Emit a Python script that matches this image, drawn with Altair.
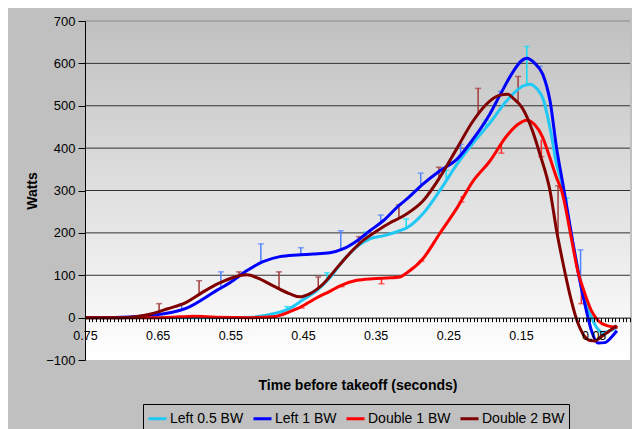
import altair as alt
import pandas as pd

# ---------------- data ----------------
series_names = ["Left 0.5 BW", "Left 1 BW", "Double 1 BW", "Double 2 BW"]
series_colors = ["#22C8F5", "#0000FF", "#FF0000", "#800000"]
errbar_colors = ["#10DDF5", "#4F80FF", "#FF2A2A", "#A03A3A"]

left05_t = [0.75, 0.70, 0.65, 0.60, 0.55, 0.52, 0.491, 0.468, 0.450, 0.431, 0.413, 0.395, 0.376, 0.358,
            0.340, 0.317, 0.307, 0.285, 0.262, 0.238, 0.216, 0.193, 0.170, 0.148, 0.138, 0.128, 0.120,
            0.110, 0.101, 0.093, 0.083, 0.073, 0.065, 0.055, 0.046, 0.037, 0.028, 0.018]
left05_w = [0, 0, 0, 0, 0, 1, 9, 22, 42, 64, 94, 134, 167, 186,
            193, 205, 212, 245, 299, 362, 412, 459, 511, 546, 551, 540, 518,
            447, 362, 312, 215, 127, 56, 9, -23, -35, -31, -23]

left1_t = [0.75, 0.70, 0.66, 0.612, 0.567, 0.551, 0.527, 0.505, 0.482, 0.458, 0.436, 0.413, 0.395,
           0.376, 0.358, 0.340, 0.317, 0.307, 0.285, 0.262, 0.238, 0.216, 0.193, 0.179, 0.161, 0.150,
           0.142, 0.131, 0.120, 0.110, 0.101, 0.092, 0.079, 0.069, 0.060, 0.053, 0.044, 0.035, 0.025, 0.018]
left1_w = [0, 1, 5, 21, 66, 82, 111, 132, 144, 148, 150, 153, 162,
           181, 205, 228, 266, 280, 315, 346, 374, 421, 480, 525, 580, 605,
           612, 600, 574, 511, 400, 312, 181, 87, 16, -31, -60, -59, -45, -31]

double1_t = [0.75, 0.65, 0.62, 0.60, 0.57, 0.52, 0.491, 0.468, 0.458, 0.445, 0.431, 0.413, 0.399, 0.376,
             0.354, 0.330, 0.317, 0.307, 0.285, 0.262, 0.238, 0.216, 0.193, 0.170, 0.155, 0.142, 0.131,
             0.120, 0.110, 0.101, 0.094, 0.080, 0.072, 0.062, 0.053, 0.044, 0.032, 0.017]
double1_w = [0, 0, 2, 3, 1, 0, 2, 14, 21, 33, 47, 62, 75, 88,
             92, 94, 96, 106, 139, 198, 259, 322, 369, 428, 455, 466, 455,
             425, 376, 330, 299, 181, 111, 56, 16, -7, -19, -23]

double2_t = [0.75, 0.70, 0.681, 0.658, 0.636, 0.612, 0.589, 0.567, 0.544, 0.535, 0.527, 0.513, 0.491,
             0.468, 0.454, 0.441, 0.422, 0.403, 0.385, 0.368, 0.348, 0.330, 0.317, 0.307, 0.285, 0.262,
             0.238, 0.216, 0.193, 0.179, 0.168, 0.161, 0.148, 0.134, 0.124, 0.110, 0.101, 0.092, 0.083,
             0.073, 0.065, 0.055, 0.048, 0.041, 0.028, 0.018]
double2_w = [0, 0, 2, 9, 21, 35, 59, 80, 96, 100, 101, 94, 75,
             56, 49, 56, 80, 118, 153, 181, 205, 224, 235, 245, 275, 330,
             400, 464, 511, 525, 527, 518, 494, 440, 386, 299, 205, 127, 56,
             -7, -38, -54, -55, -47, -31, -19]

# error bars: time, start (on the curve), end (cap)
left05_err_t = [0.472, 0.417, 0.363, 0.308, 0.253, 0.198, 0.142, 0.087]
left05_err_a = [20, 87, 180, 211, 322, 449, 549, 265]
left05_err_b = [26, 106, 202, 233, 348, 466, 640, 282]

left1_err_t = [0.617, 0.563, 0.508, 0.453, 0.398, 0.343, 0.288, 0.233, 0.178, 0.124, 0.068]
left1_err_a = [21, 71, 129, 150, 158, 224, 311, 386, 522, 585, 80]
left1_err_b = [33, 108, 174, 165, 205, 242, 341, 409, 534, 593, 160]

double1_err_t = [0.452, 0.397, 0.342, 0.287, 0.232, 0.177, 0.122, 0.067]
double1_err_a = [26, 76, 92, 136, 287, 412, 420, 83]
double1_err_b = [23, 73, 80, 133, 273, 388, 380, 33]

double2_err_t = [0.648, 0.593, 0.538, 0.483, 0.429, 0.373, 0.318, 0.263, 0.209, 0.154, 0.099]
double2_err_a = [12, 55, 99, 69, 68, 172, 235, 329, 482, 508, 190]
double2_err_b = [33, 87, 108, 108, 96, 191, 266, 355, 541, 569, 311]

grid_values = [100, 200, 300, 400, 500, 600]
top_value = [700]
y_ticks = [-100, 0, 100, 200, 300, 400, 500, 600, 700]
x_tick_step = 0.005
x_label_values = [0.75, 0.65, 0.55, 0.45, 0.35, 0.25, 0.15, 0.05]

# ---------------- tables ----------------
curves = [(left05_t, left05_w), (left1_t, left1_w), (double1_t, double1_w), (double2_t, double2_w)]
rows = []
for name, (ts, ws) in zip(series_names, curves):
    for i, (t, w) in enumerate(zip(ts, ws)):
        rows.append({"series": name, "t": t, "w": w, "i": i})
lines_df = pd.DataFrame(rows)

errs = [(left05_err_t, left05_err_a, left05_err_b), (left1_err_t, left1_err_a, left1_err_b),
        (double1_err_t, double1_err_a, double1_err_b), (double2_err_t, double2_err_a, double2_err_b)]

x_ticks = [round(0.75 - k * x_tick_step, 3) for k in range(int(round(0.75 / x_tick_step)) + 1)]

# ---------------- layout ----------------
W, H = 545, 339
ymin, ymax = -100, 700
zero_offset = -H * (0 - ymin) / (ymax - ymin)

xscale = alt.Scale(domain=[0, 0.75], reverse=True, nice=False, zero=False)
yscale = alt.Scale(domain=[ymin, ymax], nice=False, zero=False)

x_axis = alt.Axis(values=x_ticks, labelExpr="abs(round(datum.value*1000) % 100 - 50) < 1 ? format(datum.value, '.2f') : ''",
                  labelOverlap=False, labelFlush=False, tickSize=4, tickColor="black", domainColor="black",
                  labelPadding=8, labelFontSize=12.5, labelColor="black", grid=False, offset=zero_offset,
                  zindex=1, title="Time before takeoff (seconds)", titleFontSize=14, titleFontWeight="bold",
                  titleColor="black", titleY=68, titleBaseline="middle")
y_axis = alt.Axis(values=y_ticks, tickSize=7, tickColor="black", domainColor="black", labelPadding=3,
                  labelFontSize=13, labelColor="black", grid=False, zindex=1, title="Watts",
                  titleFontSize=14, titleFontWeight="bold", titleColor="black", titleX=-53,
                  titleY=H / 2, titleBaseline="middle", titleAngle=270)

gradient = alt.Gradient(gradient="linear",
                        stops=[alt.GradientStop(color="#C0C0C0", offset=0),
                               alt.GradientStop(color="#FFFFFF", offset=1)],
                        x1=0, x2=0, y1=0, y2=1)

bg = alt.Chart(pd.DataFrame({"a": [0]})).mark_rect(color=gradient).encode(
    x=alt.value(0), x2=alt.value(W), y=alt.value(0), y2=alt.value(H))

grid = alt.Chart(pd.DataFrame({"w": grid_values})).mark_rule(color="#303030", strokeWidth=1).encode(
    y=alt.Y("w:Q", scale=yscale, axis=y_axis))
top = alt.Chart(pd.DataFrame({"w": top_value})).mark_rule(color="#8A8A8A", strokeWidth=1).encode(
    y=alt.Y("w:Q", scale=yscale, axis=y_axis))

layers = [bg, grid, top]
for name, (et, ea, eb), col in zip(series_names, errs, errbar_colors):
    edf = pd.DataFrame({"t": et, "a": ea, "b": eb})
    layers.append(alt.Chart(edf).mark_rule(color=col, strokeWidth=1.5).encode(
        x=alt.X("t:Q", scale=xscale, axis=x_axis),
        y=alt.Y("a:Q", scale=yscale, axis=y_axis), y2="b:Q"))
    layers.append(alt.Chart(edf).mark_tick(color=col, orient="horizontal", size=6, thickness=1.5).encode(
        x=alt.X("t:Q", scale=xscale, axis=x_axis),
        y=alt.Y("b:Q", scale=yscale, axis=y_axis)))

lines = alt.Chart(lines_df).mark_line(strokeWidth=3, interpolate="monotone").encode(
    x=alt.X("t:Q", scale=xscale, axis=x_axis),
    y=alt.Y("w:Q", scale=yscale, axis=y_axis),
    color=alt.Color("series:N", title=None,
                    scale=alt.Scale(domain=series_names, range=series_colors),
                    legend=alt.Legend(orient="none", legendX=58, legendY=383, direction="horizontal",
                                      columns=4, symbolType="stroke", symbolStrokeWidth=3,
                                      symbolSize=324, labelFontSize=14, labelColor="black",
                                      labelOffset=2, columnPadding=3, padding=4,
                                      strokeColor="black", labelLimit=200)),
    detail="series:N",
    order="i:Q",
)
layers.append(lines)

chart = alt.layer(*layers).properties(
    width=W, height=H,
    autosize=alt.AutoSizeParams(type="none"),
    padding={"left": 77, "top": 13, "right": 2, "bottom": 69},
    background="#C0C0C0",
).configure(font="Liberation Sans").configure_view(stroke="transparent")

chart.save("out.html", embed_options={"renderer": "svg", "actions": False})
